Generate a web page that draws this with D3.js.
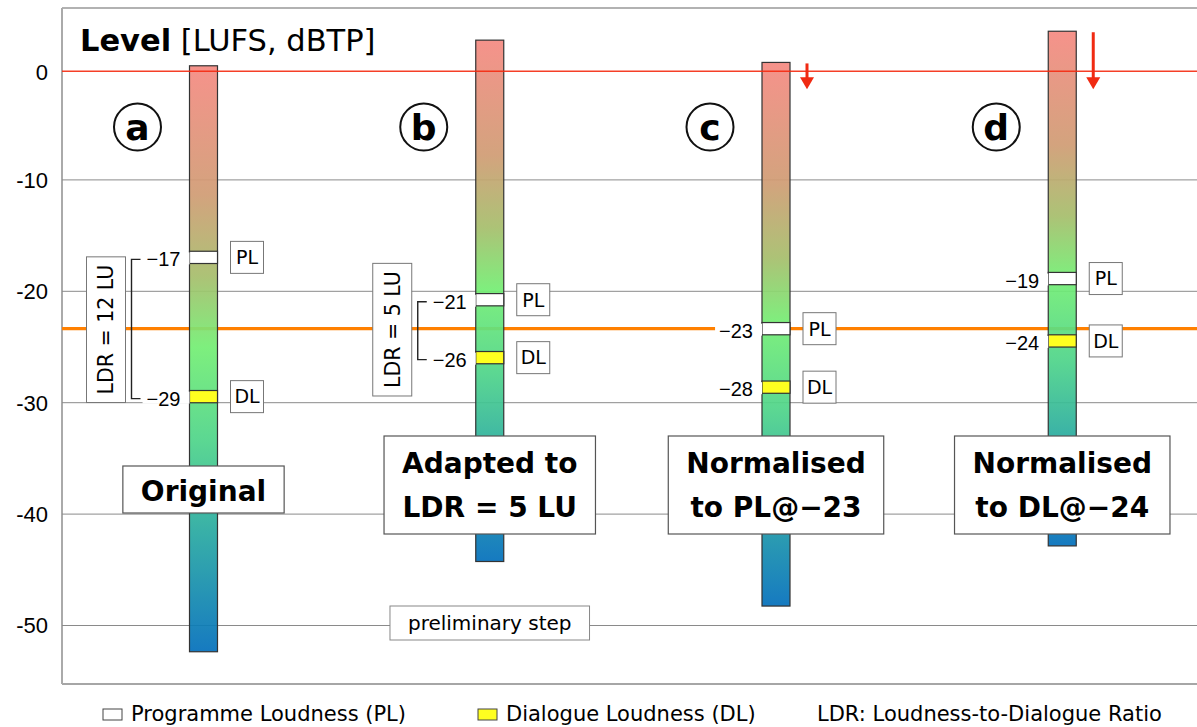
<!DOCTYPE html>
<html><head><meta charset="utf-8">
<script src="https://cdn.jsdelivr.net/npm/d3@7"></script>
<style>html,body{margin:0;padding:0;background:#fff;overflow:hidden}</style>
</head><body>
<svg id="chart" width="1197" height="727"></svg>
<script>
// ---- data ----
const categories = ["a", "b", "c", "d"];
const stageLabels = [["Original"], ["Adapted to", "LDR = 5 LU"], ["Normalised", "to PL@\u221223"], ["Normalised", "to DL@\u221224"]];
const barTop = [0.2, 2.5, 0.5, 3.3];
const barBottom = [-52.4, -44.3, -48.3, -42.9];
const plValues = [-17.0, -20.8, -23.4, -18.9];
const dlValues = [-29.5, -26.0, -28.65, -24.5];
const plLabels = ["\u221217", "\u221221", "\u221223", "\u221219"];
const dlLabels = ["\u221229", "\u221226", "\u221228", "\u221224"];
const ldrLabels = ["LDR = 12 LU", "LDR = 5 LU", null, null];
const arrowEnd = [null, null, -1.9, -1.9];
const yTicks = [0, -10, -20, -30, -40, -50];
const yTickLabels = ["0", "-10", "-20", "-30", "-40", "-50"];
const truePeakLevel = -0.3;
const targetLevel = -23.4;
const legendLabels = ["Programme Loudness (PL)", "Dialogue Loudness (DL)", "LDR: Loudness-to-Dialogue Ratio"];
const legendColors = ["#ffffff", "#ffff20", null];

// ---- layout ----
const svg = d3.select("#chart");
const FONT = "'DejaVu Sans', Verdana, sans-serif";
const plotLeft = 62, plotTop = 8, plotBottom = 684, plotRight = 1197;
const y = d3.scaleLinear().domain([0, -50]).range([68, 625]);
const x = d3.scalePoint().domain(categories).range([203.5, 1062.25]);
const barW = 28;

// gradient
const defs = svg.append("defs");
const grad = defs.append("linearGradient").attr("id", "barGrad").attr("x1", 0).attr("y1", 0).attr("x2", 0).attr("y2", 1);
[[0, "#f58a82"], [0.22, "#d09c74"], [0.36, "#a6be6c"], [0.48, "#74ee74"], [0.64, "#4fd48a"], [0.8, "#28a8a2"], [1, "#0470bc"]]
  .forEach(([o, c]) => grad.append("stop").attr("offset", o).attr("stop-color", c));

// frame
svg.append("line").attr("x1", plotLeft).attr("x2", plotRight).attr("y1", plotTop).attr("y2", plotTop).attr("stroke", "#999").attr("stroke-width", 1.5);
svg.append("line").attr("x1", plotLeft).attr("x2", plotRight).attr("y1", plotBottom).attr("y2", plotBottom).attr("stroke", "#888").attr("stroke-width", 1.5);
svg.append("line").attr("x1", plotLeft).attr("x2", plotLeft).attr("y1", plotTop).attr("y2", plotBottom).attr("stroke", "#aaa").attr("stroke-width", 2);

// grid + axis labels
const axis = d3.axisLeft(y).tickValues(yTicks).tickFormat((d, i) => yTickLabels[i]).tickSize(-(plotRight - plotLeft)).tickPadding(14);
const gAxis = svg.append("g").attr("transform", `translate(${plotLeft},0)`).call(axis);
gAxis.select(".domain").remove();
gAxis.selectAll(".tick line").attr("stroke", "#8a8a8a").attr("stroke-width", 1).attr("stroke-opacity", d => d === 0 ? 0 : 1);
gAxis.selectAll(".tick text").attr("font-family", "'Liberation Sans', Arial, sans-serif").attr("font-size", 22).attr("fill", "#000")
  .attr("dy", d => d === 0 ? "0.52em" : "0.36em");

// title
const title = svg.append("text").attr("x", 80).attr("y", 51).attr("font-family", FONT).attr("font-size", 30.5).attr("fill", "#000");
title.append("tspan").attr("font-weight", "bold").text("Level");
title.append("tspan").text(" [LUFS, dBTP]");

// target (orange) line
svg.append("line").attr("x1", plotLeft).attr("x2", plotRight).attr("y1", y(targetLevel)).attr("y2", y(targetLevel))
  .attr("stroke", "#ff8000").attr("stroke-width", 3.2);

// bars
svg.append("g").selectAll("rect").data(categories).join("rect")
  .attr("x", d => x(d) - barW / 2).attr("width", barW)
  .attr("y", (d, i) => y(barTop[i])).attr("height", (d, i) => y(barBottom[i]) - y(barTop[i]))
  .attr("fill", "url(#barGrad)").attr("fill-opacity", 0.93).attr("stroke", "#333").attr("stroke-width", 1.2);

// true peak red line
svg.append("line").attr("x1", plotLeft).attr("x2", plotRight).attr("y1", y(truePeakLevel)).attr("y2", y(truePeakLevel))
  .attr("stroke", "#f42a10").attr("stroke-width", 1.5).attr("stroke-opacity", 0.9);

// markers
const mh = 0.55;
function markers(vals, fill) {
  svg.append("g").selectAll("rect").data(categories).join("rect")
    .attr("x", d => x(d) - barW / 2).attr("width", barW)
    .attr("y", (d, i) => y(vals[i] + mh)).attr("height", (d, i) => y(vals[i] - mh) - y(vals[i] + mh))
    .attr("fill", fill).attr("stroke", "#333").attr("stroke-width", 1.2);
}
markers(plValues, "#ffffff");
markers(dlValues, "#ffff20");

// value labels (with white background)
function valueLabels(vals, labels) {
  const g = svg.append("g");
  categories.forEach((c, i) => {
    const right = x(c) - barW / 2 - 9;
    const t = g.append("text").attr("x", right).attr("y", y(vals[i]) + 2).attr("text-anchor", "end").attr("dy", "0.35em")
      .attr("font-family", "'Liberation Sans', Arial, sans-serif").attr("font-size", 20).attr("fill", "#000").text(labels[i]);
    const w = t.node().getComputedTextLength();
    g.insert("rect", "text").attr("x", right - w - 4).attr("width", w + 13).attr("y", y(vals[i]) - 5).attr("height", 12).attr("fill", "#fff");
  });
}
valueLabels(plValues, plLabels);
valueLabels(dlValues, dlLabels);

// PL / DL boxes
function tagBoxes(vals, tag) {
  const g = svg.append("g");
  categories.forEach((c, i) => {
    const left = x(c) + barW / 2 + 13;
    g.append("rect").attr("x", left).attr("y", y(vals[i]) - 16).attr("width", 33).attr("height", 32)
      .attr("fill", "#fff").attr("stroke", "#777").attr("stroke-width", 1);
    g.append("text").attr("x", left + 16.5).attr("y", y(vals[i])).attr("dy", "0.36em").attr("text-anchor", "middle")
      .attr("font-family", FONT).attr("font-size", 19).attr("fill", "#000").text(tag);
  });
}
tagBoxes(plValues, "PL");
tagBoxes(dlValues, "DL");

// LDR brackets + rotated boxes
categories.forEach((c, i) => {
  if (!ldrLabels[i]) return;
  const bx = x(c) - 72;
  const y1 = y(plValues[i]) + 2, y2 = y(dlValues[i]) + 2;
  svg.append("path").attr("d", `M${bx + 9},${y1}H${bx}V${y2}H${bx + 9}`).attr("fill", "none").attr("stroke", "#222").attr("stroke-width", 1.4);
  const cx = bx - 6 - 19.5, cy = y(targetLevel) + 1;
  const g = svg.append("g");
  const rect = g.append("rect").attr("fill", "#fff").attr("stroke", "#777").attr("stroke-width", 1);
  const t = g.append("text").attr("transform", `translate(${cx},${cy}) rotate(-90)`).attr("text-anchor", "middle").attr("dy", "0.36em")
    .attr("font-family", FONT).attr("font-size", 20.5).attr("fill", "#000").text(ldrLabels[i]);
  const len = t.node().getComputedTextLength() + 16;
  rect.attr("x", cx - 19.5).attr("width", 39).attr("y", cy - len / 2).attr("height", len);
});

// red arrows
categories.forEach((c, i) => {
  if (arrowEnd[i] === null) return;
  const ax = x(c) + barW / 2 + 17;
  const yt = y(barTop[i]) + 1, yb = y(arrowEnd[i]);
  svg.append("line").attr("x1", ax).attr("x2", ax).attr("y1", yt).attr("y2", yb - 10).attr("stroke", "#f02a12").attr("stroke-width", 3);
  svg.append("path").attr("d", `M${ax - 7},${yb - 12}L${ax + 7},${yb - 12}L${ax},${yb}Z`).attr("fill", "#f02a12");
});

// circled letters
categories.forEach((c, i) => {
  const cx = x(c) - 66, cy = 127;
  svg.append("circle").attr("cx", cx).attr("cy", cy).attr("r", 23.5).attr("fill", "#fff").attr("stroke", "#111").attr("stroke-width", 2);
  svg.append("text").attr("x", cx).attr("y", cy).attr("dy", "0.36em").attr("text-anchor", "middle")
    .attr("font-family", FONT).attr("font-weight", "bold").attr("font-size", 36).attr("fill", "#000").text(c);
});

// stage label boxes
categories.forEach((c, i) => {
  const lines = stageLabels[i];
  const cx = x(c);
  const g = svg.append("g");
  const rect = g.append("rect").attr("fill", "#fff").attr("stroke", "#555").attr("stroke-width", 1.2);
  let maxW = 0;
  const top = lines.length === 1 ? 466 : 436;
  const h = lines.length === 1 ? 47 : 98;
  lines.forEach((ln, k) => {
    const t = g.append("text").attr("x", cx).attr("y", top + (lines.length === 1 ? 35 : 37 + k * 44)).attr("text-anchor", "middle")
      .attr("font-family", FONT).attr("font-weight", "bold").attr("font-size", 28).attr("fill", "#000").text(ln);
    maxW = Math.max(maxW, t.node().getComputedTextLength());
  });
  const w = maxW + 36;
  rect.attr("x", cx - w / 2).attr("width", w).attr("y", top).attr("height", h);
});

// preliminary step box
{
  const cx = x("b");
  const g = svg.append("g");
  const rect = g.append("rect").attr("fill", "#fff").attr("stroke", "#888").attr("stroke-width", 1);
  const t = g.append("text").attr("x", cx).attr("y", 630).attr("text-anchor", "middle")
    .attr("font-family", FONT).attr("font-size", 20).attr("fill", "#000").text("preliminary step");
  const w = t.node().getComputedTextLength() + 36;
  rect.attr("x", cx - w / 2).attr("width", w).attr("y", 606).attr("height", 34);
}

// legend
const legX = [103, 478, 817];
legendLabels.forEach((lab, i) => {
  let tx = legX[i];
  if (legendColors[i]) {
    svg.append("rect").attr("x", legX[i]).attr("y", 709).attr("width", 19).attr("height", 11)
      .attr("fill", legendColors[i]).attr("stroke", "#444").attr("stroke-width", 1);
    tx = legX[i] + 28;
  }
  svg.append("text").attr("x", tx).attr("y", 721).attr("font-family", FONT).attr("font-size", 21).attr("fill", "#000").text(lab);
});
</script>
</body></html>
